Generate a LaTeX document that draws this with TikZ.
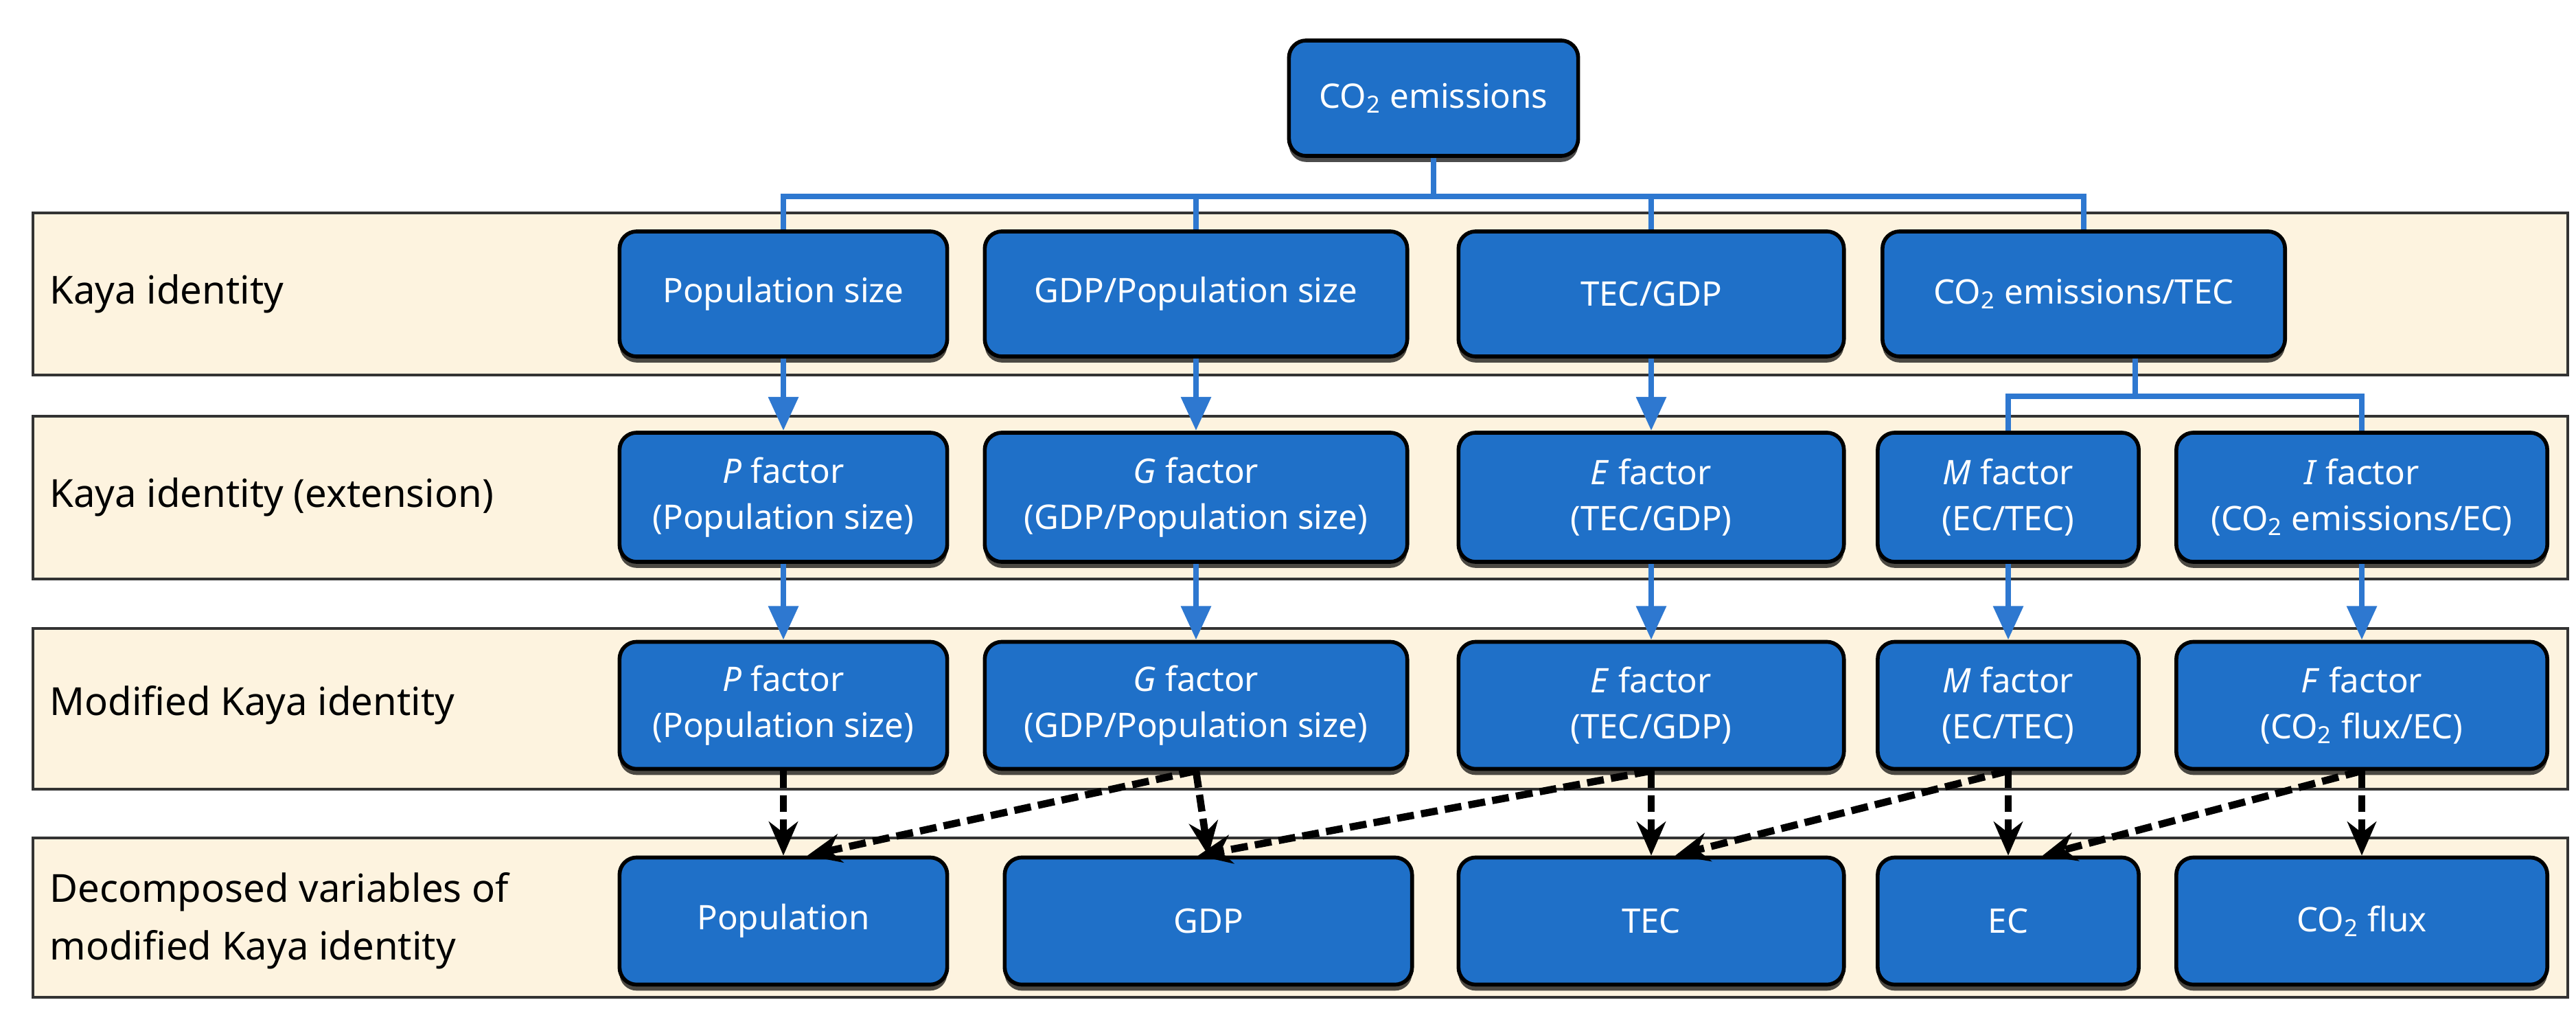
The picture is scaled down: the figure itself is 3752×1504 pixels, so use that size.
\documentclass[tikz,border=0pt]{standalone}
\usepackage{fontspec}
\setmainfont{Noto Sans}
\usetikzlibrary{arrows.meta,calc,shadows}
\definecolor{boxblue}{HTML}{1F70C8}
\definecolor{lineblue}{HTML}{2E78D0}
\definecolor{band}{HTML}{FDF3DF}
\begin{document}
\begin{tikzpicture}[x=0.01cm,y=-0.01cm,
  bx/.style={draw=black,line width=1.6pt,fill=boxblue,rounded corners=0.25cm,text=white,
     font=\bfseries\fontsize{14}{19}\selectfont,align=center,inner sep=0pt,
     drop shadow={shadow xshift=0pt,shadow yshift=-2.5pt,opacity=0.7,fill=black}},
  bandst/.style={draw=black!80,line width=1pt,fill=band},
  lab/.style={anchor=west,font=\bfseries\fontsize{16}{24}\selectfont,align=left},
  conn/.style={draw=lineblue,line width=2.5pt},
  arr/.style={draw=lineblue,line width=2.5pt,-{Triangle[length=14pt,width=12pt]}},
  dot/.style={draw=black,line width=3pt,dash pattern=on 7pt off 3pt,-{Stealth[length=14pt,width=12pt]}}]
\useasboundingbox (0,0) rectangle (3752,1504);
\fill[white] (0,0) rectangle (3752,1504);
% bands
\path[bandst] (48,310) rectangle (3740,546);
\path[bandst] (48,606) rectangle (3740,843);
\path[bandst] (48,915) rectangle (3740,1149);
\path[bandst] (48,1220) rectangle (3740,1452);
\node[lab] (l1) at (60,428) {Kaya identity};
\node[lab] (l2) at (60,724) {Kaya identity (extension)};
\node[lab] (l3) at (60,1027) {Modified Kaya identity};
\node[lab] (l4) at (60,1341) {Decomposed variables of\\modified Kaya identity};
% top
\node[bx,minimum width=4.21cm,minimum height=1.68cm] (top) at (2088,143) {CO\textsubscript{2} emissions};
% row1
\node[bx,minimum width=4.77cm,minimum height=1.82cm] (r1a) at (1141,428) {Population size};
\node[bx,minimum width=6.15cm,minimum height=1.82cm] (r1b) at (1742,428) {GDP/Population size};
\node[bx,minimum width=5.61cm,minimum height=1.82cm] (r1c) at (2405,428) {TEC/GDP};
\node[bx,minimum width=5.86cm,minimum height=1.82cm] (r1d) at (3035,428) {CO\textsubscript{2} emissions/TEC};
% row2
\node[bx,minimum width=4.77cm,minimum height=1.88cm] (r2a) at (1141,724) {\textit{P} factor\\(Population size)};
\node[bx,minimum width=6.15cm,minimum height=1.88cm] (r2b) at (1742,724) {\textit{G} factor\\(GDP/Population size)};
\node[bx,minimum width=5.61cm,minimum height=1.88cm] (r2c) at (2405,724) {\textit{E} factor\\(TEC/GDP)};
\node[bx,minimum width=3.80cm,minimum height=1.88cm] (r2d) at (2925,724) {\textit{M} factor\\(EC/TEC)};
\node[bx,minimum width=5.40cm,minimum height=1.88cm] (r2e) at (3440,724) {\textit{I} factor\\(CO\textsubscript{2} emissions/EC)};
% row3
\node[bx,minimum width=4.77cm,minimum height=1.85cm] (r3a) at (1141,1027) {\textit{P} factor\\(Population size)};
\node[bx,minimum width=6.15cm,minimum height=1.85cm] (r3b) at (1742,1027) {\textit{G} factor\\(GDP/Population size)};
\node[bx,minimum width=5.61cm,minimum height=1.85cm] (r3c) at (2405,1027) {\textit{E} factor\\(TEC/GDP)};
\node[bx,minimum width=3.80cm,minimum height=1.85cm] (r3d) at (2925,1027) {\textit{M} factor\\(EC/TEC)};
\node[bx,minimum width=5.40cm,minimum height=1.85cm] (r3e) at (3440,1027) {\textit{F} factor\\(CO\textsubscript{2} flux/EC)};
% row4
\node[bx,minimum width=4.77cm,minimum height=1.85cm] (r4a) at (1141,1341) {Population};
\node[bx,minimum width=5.93cm,minimum height=1.85cm] (r4b) at (1760,1341) {GDP};
\node[bx,minimum width=5.61cm,minimum height=1.85cm] (r4c) at (2405,1341) {TEC};
\node[bx,minimum width=3.80cm,minimum height=1.85cm] (r4d) at (2925,1341) {EC};
\node[bx,minimum width=5.40cm,minimum height=1.85cm] (r4e) at (3440,1341) {CO\textsubscript{2} flux};
% top connectors
\coordinate (bar) at (2088,286);
\draw[conn] (top.south) -- (bar);
\draw[conn] (bar) -| (r1a.north);
\draw[conn] (bar) -| (r1b.north);
\draw[conn] (bar) -| (r1c.north);
\draw[conn] (bar) -| (r1d.north);
% row1 -> row2
\draw[arr] (r1a.south) -- (r2a.north);
\draw[arr] (r1b.south) -- (r2b.north);
\draw[arr] (r1c.south) -- (r2c.north);
\coordinate (split) at (3110,577);
\draw[conn] (r1d.south -| split) -- (split);
\draw[conn] (split) -| (r2d.north);
\draw[conn] (split) -| (r2e.north);
% row2 -> row3
\draw[arr] (r2a.south) -- (r3a.north);
\draw[arr] (r2b.south) -- (r3b.north);
\draw[arr] (r2c.south) -- (r3c.north);
\draw[arr] (r2d.south) -- (r3d.north);
\draw[arr] (r2e.south) -- (r3e.north);
% row3 -> row4 dotted
\draw[dot] (r3a.south) -- (r4a.north);
\draw[dot] (r3b.south) -- (r4b.north);
\draw[dot] (r3c.south) -- (r4c.north);
\draw[dot] (r3d.south) -- (r4d.north);
\draw[dot] (r3e.south) -- (r4e.north);
\draw[dot] (r3b.south) -- ($(r4a.north)+(35,0)$);
\draw[dot] (r3c.south) -- ($(r4b.north)+(-15,0)$);
\draw[dot] (r3d.south) -- ($(r4c.north)+(35,0)$);
\draw[dot] (r3e.south) -- ($(r4d.north)+(50,0)$);
\end{tikzpicture}
\end{document}
